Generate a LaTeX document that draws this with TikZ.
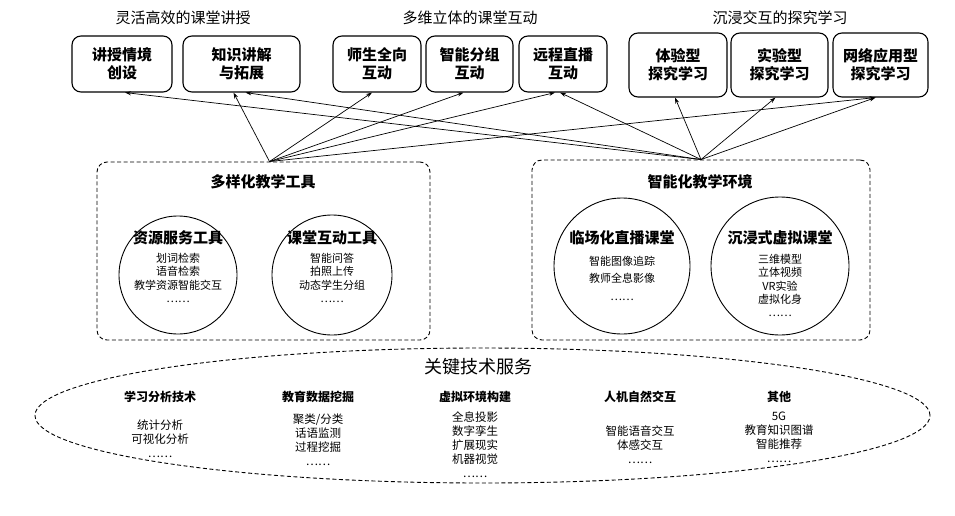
\documentclass[tikz,border=0pt]{standalone}
\usepackage{fontspec}
\newfontfamily\cjk{Noto Sans CJK SC}
\usetikzlibrary{arrows.meta,shapes.geometric}
\tikzset{
  topbox/.style={draw,line width=1.1pt,rounded corners=9pt,align=center,inner sep=0pt,
     font=\cjk\bfseries\fontsize{15}{18}\selectfont},
  grouptitle/.style={font=\cjk\fontsize{15}{18}\selectfont,inner sep=0pt},
  dashbox/.style={draw,line width=0.9pt,dash pattern=on 4pt off 2.5pt,rounded corners=10pt},
  ring/.style={draw,circle,line width=0.9pt,inner sep=0pt},
  boxtitle/.style={font=\cjk\bfseries\fontsize{15}{18}\selectfont,inner sep=0pt},
  ringtitle/.style={font=\cjk\bfseries\fontsize{15}{18}\selectfont,inner sep=0pt},
  ringitems/.style={font=\cjk\fontsize{11}{13.3}\selectfont,align=center,inner sep=0pt},
  colhead/.style={font=\cjk\bfseries\fontsize{12}{14}\selectfont,inner sep=0pt},
  colitems/.style={font=\cjk\fontsize{11.5}{14}\selectfont,align=center,inner sep=0pt},
  link/.style={line width=0.7pt,-{Stealth[length=6pt,width=4pt]}}
}
\begin{document}
\begin{tikzpicture}[x=1pt,y=-1pt]
\useasboundingbox (0,0) rectangle (955,516);
% group titles
\node[grouptitle] (g1) at (183,18) {灵活高效的课堂讲授};
\node[grouptitle] (g2) at (470,18) {多维立体的课堂互动};
\node[grouptitle] (g3) at (780,18) {沉浸交互的探究学习};
% top boxes
\node[topbox,minimum width=100pt,minimum height=56pt] (b1) at (122,64) {讲授情境\\创设};
\node[topbox,minimum width=117pt,minimum height=56pt] (b2) at (241.5,64) {知识讲解\\与拓展};
\node[topbox,minimum width=88pt,minimum height=56pt] (b3) at (377,64) {师生全向\\互动};
\node[topbox,minimum width=87pt,minimum height=56pt] (b4) at (469.5,64) {智能分组\\互动};
\node[topbox,minimum width=88pt,minimum height=56pt] (b5) at (563,64) {远程直播\\互动};
\node[topbox,minimum width=98pt,minimum height=64pt] (b6) at (678,65) {体验型\\探究学习};
\node[topbox,minimum width=97pt,minimum height=64pt] (b7) at (779.5,65) {实验型\\探究学习};
\node[topbox,minimum width=95pt,minimum height=64pt] (b8) at (880.5,65) {网络应用型\\探究学习};
% dashed group boxes
\node[dashbox,minimum width=333pt,minimum height=178pt] (tools) at (263.5,251) {};
\node[dashbox,minimum width=338pt,minimum height=180pt] (env) at (701,250) {};
\node[boxtitle] (tt) at (263,182) {多样化教学工具};
\node[boxtitle] (et) at (700,182) {智能化教学环境};
% circles
\node[ring,minimum size=118pt] (c1) at (178,275) {};
\node[ring,minimum size=120pt] (c2) at (332,275) {};
\node[ring,minimum size=136pt] (c3) at (622,266) {};
\node[ring,minimum size=138pt] (c4) at (780,266) {};
\node[ringtitle] (c1t) at (178,238) {资源服务工具};
\node[ringitems] (c1i) at (178,278) {划词检索\\语音检索\\教学资源智能交互\\……};
\node[ringtitle] (c2t) at (332,238) {课堂互动工具};
\node[ringitems] (c2i) at (332,278) {智能问答\\拍照上传\\动态学生分组\\……};
\node[ringtitle] (c3t) at (622,238) {临场化直播课堂};
\node[ringitems,font=\cjk\fontsize{11}{17.5}\selectfont] (c3i) at (622,278) {智能图像追踪\\教师全息影像\\……};
\node[ringtitle] (c4t) at (780,238) {沉浸式虚拟课堂};
\node[ringitems] (c4i) at (780,285.5) {三维模型\\立体视频\\VR实验\\虚拟化身\\……};
% key technology ellipse
\node[draw,ellipse,line width=0.9pt,dash pattern=on 4pt off 2.5pt,minimum width=895pt,minimum height=135pt,inner sep=0pt] (tech) at (482.5,415.5) {};
\node[font=\cjk\fontsize{18}{20}\selectfont,inner sep=0pt] (techt) at (478,367) {关键技术服务};
\node[colhead] (h1) at (160,397) {学习分析技术};
\node[colhead] (h2) at (318,397) {教育数据挖掘};
\node[colhead] (h3) at (475,397) {虚拟环境构建};
\node[colhead] (h4) at (640,397) {人机自然交互};
\node[colhead] (h5) at (779,397) {其他};
\node[colitems] (i1) at (160,438.5) {统计分析\\可视化分析\\……};
\node[colitems] (i2) at (318,440) {聚类/分类\\话语监测\\过程挖掘\\……};
\node[colitems] (i3) at (475,445) {全息投影\\数字孪生\\扩展现实\\机器视觉\\……};
\node[colitems] (i4) at (640,445) {智能语音交互\\体感交互\\……};
\node[colitems] (i5) at (779,437.5) {5G\\教育知识图谱\\智能推荐\\……};
% links from 多样化教学工具
\coordinate (ls) at ([xshift=6pt]tools.north);
\coordinate (rs) at (env.north);
\draw[link] (ls) -- ([xshift=-8pt]b2.south);
\draw[link] (ls) -- ([xshift=-5pt]b3.south);
\draw[link] (ls) -- ([xshift=-6pt]b4.south);
\draw[link] (ls) -- ([xshift=-8pt]b5.south);
\draw[link] (ls) -- ([xshift=-5pt]b8.south);
% links from 智能化教学环境
\draw[link] (rs) -- ([xshift=3pt]b1.south);
\draw[link] (rs) -- ([xshift=4pt]b2.south);
\draw[link] (rs) -- ([xshift=-3pt]b5.south);
\draw[link] (rs) -- ([xshift=-3pt]b6.south);
\draw[link] (rs) -- ([xshift=-4pt]b7.south);
\draw[link] (rs) -- ([xshift=-5pt]b8.south);
\end{tikzpicture}
\end{document}
